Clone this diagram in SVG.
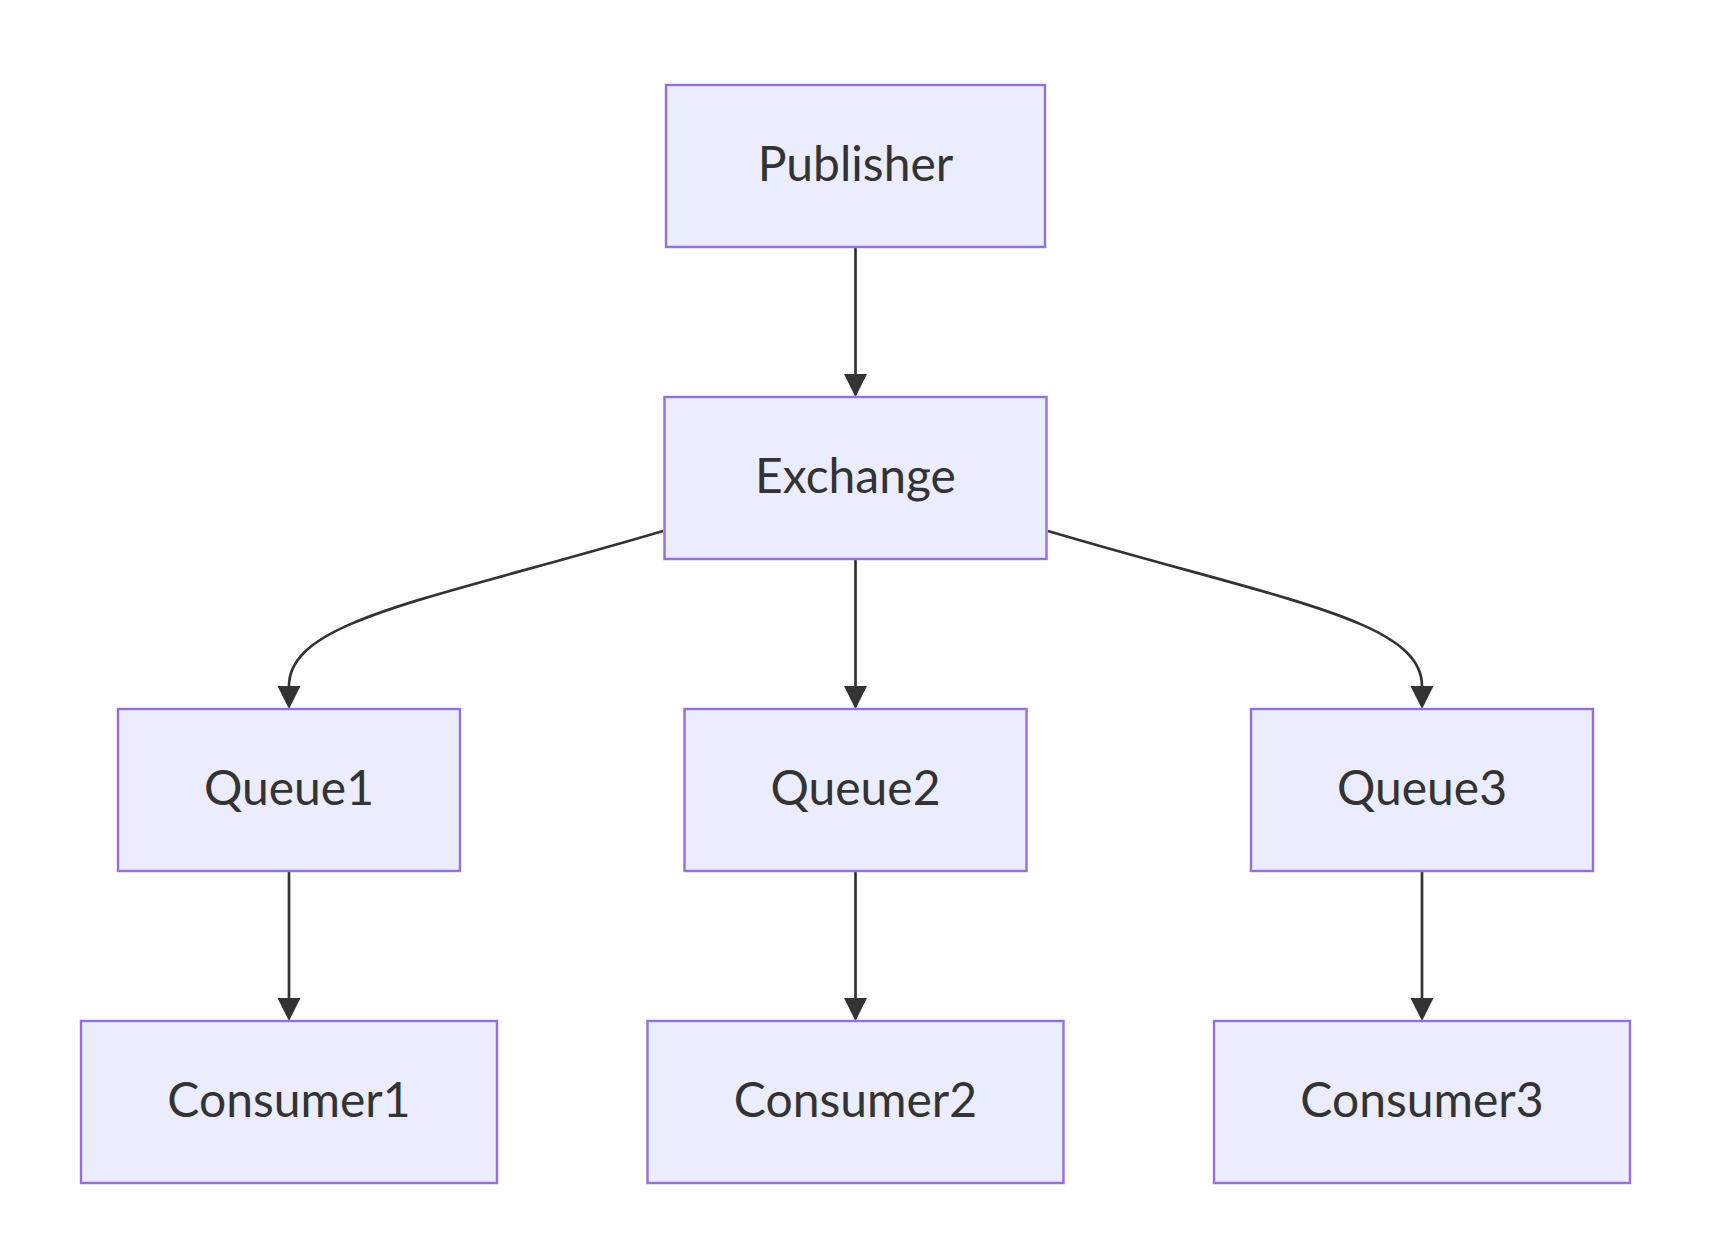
<svg xmlns="http://www.w3.org/2000/svg" width="1711" height="1260" viewBox="0 0 1711 1260">
<style>
.node rect{fill:#ECECFF;stroke:#9370DB;stroke-width:2.4}
.node text{font-family:Lato,"Open Sans","Liberation Sans",sans-serif;font-size:48px;fill:#333333;text-anchor:middle}
.edge{fill:none;stroke:#333333;stroke-width:2.7}
</style>
<defs>
<marker id="arrow" markerUnits="userSpaceOnUse" viewBox="0 0 10 10" refX="0" refY="5" markerWidth="23" markerHeight="24" orient="auto">
<path d="M0,0 L10,5 L0,10 z" fill="#333333"/>
</marker>
</defs>
<rect width="1711" height="1260" fill="#ffffff"/>
<g id="connectors">
<path class="edge" d="M855.5,247 L855.5,374" marker-end="url(#arrow)"/>
<path class="edge" d="M663,531 C430,600 289,620 289,686" marker-end="url(#arrow)"/>
<path class="edge" d="M855.5,559 L855.5,686" marker-end="url(#arrow)"/>
<path class="edge" d="M1048,531 C1281,600 1422,620 1422,686" marker-end="url(#arrow)"/>
<path class="edge" d="M289,871 L289,998" marker-end="url(#arrow)"/>
<path class="edge" d="M855.5,871 L855.5,998" marker-end="url(#arrow)"/>
<path class="edge" d="M1422,871 L1422,998" marker-end="url(#arrow)"/>
</g>
<g id="Publisher" class="node"><rect x="666" y="85" width="379" height="162"/><text x="855.5" y="181">Publisher</text></g>
<g id="Exchange" class="node"><rect x="664.5" y="397" width="382" height="162"/><text x="855.5" y="493">Exchange</text></g>
<g id="Queue1" class="node"><rect x="118" y="709" width="342" height="162"/><text x="289" y="805">Queue1</text></g>
<g id="Queue2" class="node"><rect x="684.5" y="709" width="342" height="162"/><text x="855.5" y="805">Queue2</text></g>
<g id="Queue3" class="node"><rect x="1251" y="709" width="342" height="162"/><text x="1422" y="805">Queue3</text></g>
<g id="Consumer1" class="node"><rect x="81" y="1021" width="416" height="162"/><text x="289" y="1117">Consumer1</text></g>
<g id="Consumer2" class="node"><rect x="647.5" y="1021" width="416" height="162"/><text x="855.5" y="1117">Consumer2</text></g>
<g id="Consumer3" class="node"><rect x="1214" y="1021" width="416" height="162"/><text x="1422" y="1117">Consumer3</text></g>
</svg>
